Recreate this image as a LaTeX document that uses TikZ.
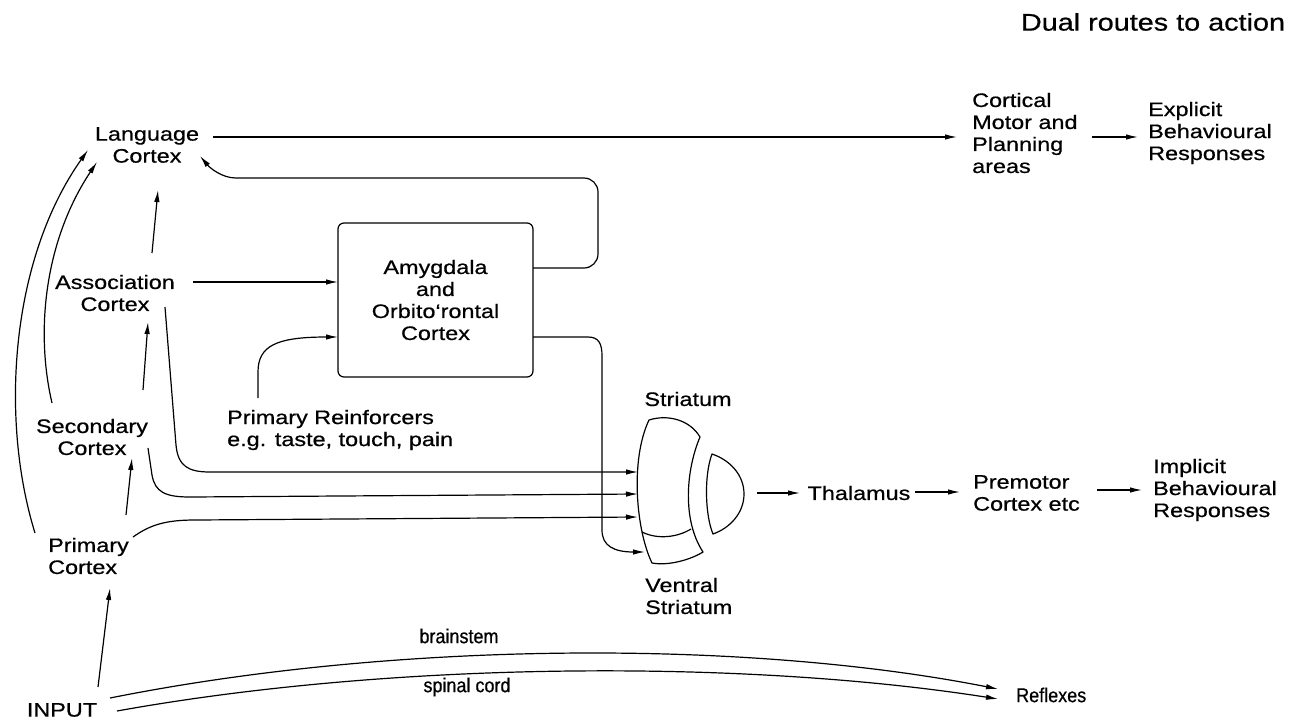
\documentclass[tikz,border=0pt]{standalone}
\usepackage{fontspec}
\setmainfont[FakeStretch=1.2,FakeBold=0.6]{Liberation Sans}
\newfontfamily\plainsans[FakeStretch=0.9,FakeBold=0.6]{Liberation Sans}
\usetikzlibrary{arrows.meta}
\begin{document}
\begin{tikzpicture}[x=1pt,y=-1pt,
  lbl/.style={font=\fontsize{19.5}{22}\selectfont, inner sep=0pt, align=center},
  lbll/.style={lbl, align=left, anchor=west},
  small/.style={font=\plainsans\fontsize{20}{22}\selectfont, inner sep=0pt},
  ln/.style={line width=1.2pt, line join=round},
  arr/.style={ln, -{Latex[length=12pt,width=5.5pt]}},
  box/.style={draw, line width=1.2pt, rounded corners=6pt, minimum width=195pt, minimum height=154pt, align=center, font=\fontsize{19.5}{22}\selectfont, inner sep=0pt}
]
\useasboundingbox (0,0) rectangle (1298,721);

% ---------- labels ----------
\node[lbl, font=\fontsize{24}{28}\selectfont] (title) at (1153,22) {Dual routes to action};
\node[lbl] (lang) at (147,145) {Language\\Cortex};
\node[lbl] (assoc) at (115,293) {Association\\Cortex};
\node[lbl] (second) at (92,437) {Secondary\\Cortex};
\node[lbll] (primary) at (48,556) {Primary\\Cortex};
\node[lbl] (input) at (62,710) {INPUT};
\node[box] (amyg) at (435.5,300) {Amygdala\\and\\Orbito‘rontal\\Cortex};
\node[lbll] (reinf) at (227,430) {Primary Reinforcers\\e.g. taste, touch, pain};
\node[lbl] (striat) at (688,399) {Striatum};
\node[lbll] (ventral) at (645,596) {Ventral\\Striatum};
\node[lbl] (thal) at (859,493) {Thalamus};
\node[lbll] (premotor) at (973,493) {Premotor\\Cortex etc};
\node[lbll] (implicit) at (1153,490) {Implicit\\Behavioural\\Responses};
\node[lbll] (motor) at (972,133) {Cortical\\Motor and\\Planning\\areas};
\node[lbll] (explicit) at (1148,133) {Explicit\\Behavioural\\Responses};
\node[small] (brainstem) at (459,636) {brainstem};
\node[small] (spinal) at (467,687) {spinal cord};
\node[small, anchor=west] (reflex) at (1016,695) {Reflexes};

% ---------- striatum shapes ----------
\draw[ln] (649,420) .. controls (668,414) and (690,420) .. (700,437)
  .. controls (686,470) and (682,520) .. (703,552)
  .. controls (690,560) and (668,566) .. (652,563)
  .. controls (636,530) and (630,460) .. (649,420) -- cycle;
\draw[ln] (642,532) .. controls (658,540) and (678,537) .. (691,529);
\draw[ln] (712,454) .. controls (730,460) and (744,475) .. (744,494)
  .. controls (744,513) and (730,528) .. (713,534)
  .. controls (705,515) and (704,475) .. (712,454) -- cycle;

% ---------- connector end points ----------
\coordinate (langE) at (213,137);
\coordinate (motorW) at (957,137);
\coordinate (motorE) at (1092,137);
\coordinate (explW) at (1138,137);
\coordinate (amygR1) at (533,268);
\coordinate (langSE) at (200,156);
\coordinate (assocE) at (193,282);
\coordinate (amygL1) at (338,282);
\coordinate (reinfN) at (258,398);
\coordinate (amygL2) at (338,337);
\coordinate (amygR2) at (533,337);
\coordinate (ventW) at (645,552);
\coordinate (assocS) at (165,307);
\coordinate (secS) at (148,448);
\coordinate (primE) at (133,537);
\coordinate (strIn1) at (638,472);
\coordinate (strIn2) at (638,494);
\coordinate (strIn3) at (638,517);
\coordinate (strOut) at (757,493);
\coordinate (thalW) at (800,493);
\coordinate (thalE) at (915,492);
\coordinate (premW) at (960,492);
\coordinate (premE) at (1097,490);
\coordinate (implW) at (1142,490);
\coordinate (inN) at (98,687);
\coordinate (primS) at (110,588);
\coordinate (primN) at (126,515);
\coordinate (secSo) at (132,458);
\coordinate (secN) at (143,390);
\coordinate (assocSo) at (148,322);
\coordinate (assocN) at (152,253);
\coordinate (langS) at (158,190);
\coordinate (primW) at (35,533);
\coordinate (langSW1) at (88,150);
\coordinate (secW) at (52,403);
\coordinate (langSW2) at (97,162);
\coordinate (inE1) at (110,698);
\coordinate (inE2) at (117,711);
\coordinate (refW1) at (998,689);
\coordinate (refW2) at (998,699);

% ---------- connectors ----------
\draw[arr] (langE) -- (motorW);
\draw[arr] (motorE) -- (explW);
\draw[arr, rounded corners=14pt] (amygR1) -- (598,268) -- (598,178) -- (250,178)
   [sharp corners] .. controls (222,178) and (210,168) .. (langSE);
\draw[arr] (assocE) -- (amygL1);
\draw[arr] (reinfN) -- (258,372) .. controls (258,346) and (276,337) .. (amygL2);
\draw[arr] (amygR2) -- (588,337) .. controls (599,337) and (602,344) .. (602,356)
   -- (602,530) .. controls (602,546) and (614,552) .. (ventW);
\draw[arr] (assocS) -- (176,445) .. controls (178,466) and (188,472) .. (210,472) -- (strIn1);
\draw[arr] (secS) -- (152,475) .. controls (155,492) and (165,497) .. (190,497) -- (strIn2);
\draw[arr] (primE) .. controls (150,525) and (165,520) .. (195,520) -- (strIn3);
\draw[arr] (strOut) -- (thalW);
\draw[arr] (thalE) -- (premW);
\draw[arr] (premE) -- (implW);
\draw[arr] (inN) -- (primS);
\draw[arr] (primN) -- (secSo);
\draw[arr] (secN) -- (assocSo);
\draw[arr] (assocN) -- (langS);
\draw[arr] (primW) .. controls (0,420) and (10,260) .. (langSW1);
\draw[arr] (secW) .. controls (35,330) and (45,240) .. (langSW2);
\draw[arr] (inE1) .. controls (400,640) and (750,640) .. (refW1);
\draw[arr] (inE2) .. controls (400,660) and (750,660) .. (refW2);
\end{tikzpicture}
\end{document}
